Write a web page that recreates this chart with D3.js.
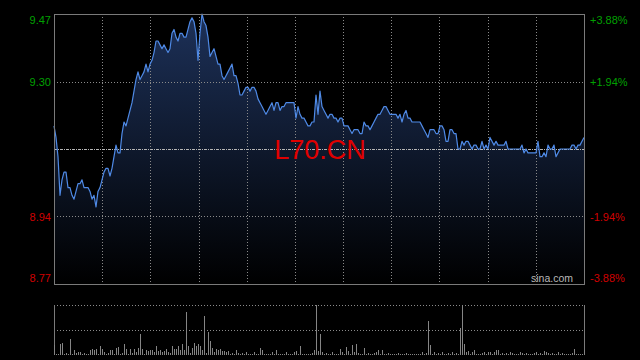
<!DOCTYPE html>
<html><head><meta charset="utf-8">
<script src="https://cdn.jsdelivr.net/npm/d3@7"></script>
<style>html,body{margin:0;padding:0;background:#000;}svg{display:block;}</style>
</head><body>
<svg id="c" width="640" height="360"></svg>
<script>
const title = "L70.CN";
const watermark = "sina.com";
const prevClose = 9.12;
const priceTicks = [9.47, 9.295, 9.12, 8.945, 8.77];
const priceLabels = ["9.47", "9.30", "", "8.94", "8.77"];
const pctLabels = ["+3.88%", "+1.94%", "", "-1.94%", "-3.88%"];
const prices = [
 9.18,9.15,9.10,9.00,9.04,9.06,9.06,9.02,9.02,9.00,
 8.99,9.01,9.03,9.03,9.04,9.02,9.02,9.02,9.01,8.99,
 9.00,8.97,9.01,9.02,9.04,9.06,9.07,9.07,9.05,9.07,
 9.10,9.13,9.11,9.11,9.16,9.19,9.18,9.20,9.22,9.24,
 9.27,9.30,9.32,9.30,9.31,9.32,9.34,9.32,9.34,9.35,
 9.37,9.40,9.40,9.39,9.38,9.39,9.38,9.37,9.38,9.42,
 9.43,9.41,9.40,9.42,9.42,9.41,9.41,9.43,9.45,9.46,
 9.45,9.42,9.35,9.42,9.47,9.45,9.44,9.41,9.36,9.37,
 9.38,9.36,9.34,9.34,9.31,9.30,9.31,9.32,9.33,9.34,
 9.31,9.31,9.29,9.26,9.26,9.27,9.28,9.28,9.27,9.28,
 9.28,9.27,9.25,9.24,9.23,9.22,9.21,9.22,9.23,9.24,
 9.22,9.24,9.24,9.22,9.23,9.23,9.24,9.24,9.24,9.24,
 9.24,9.20,9.23,9.21,9.20,9.20,9.19,9.18,9.18,9.19,
 9.19,9.26,9.21,9.27,9.23,9.22,9.21,9.20,9.21,9.21,
 9.20,9.20,9.19,9.20,9.20,9.18,9.18,9.18,9.17,9.16,
 9.17,9.17,9.17,9.16,9.16,9.19,9.18,9.18,9.17,9.18,
 9.19,9.20,9.21,9.21,9.22,9.23,9.23,9.22,9.21,9.21,
 9.21,9.21,9.20,9.21,9.19,9.21,9.22,9.20,9.20,9.19,
 9.19,9.19,9.19,9.19,9.18,9.17,9.16,9.15,9.17,9.17,
 9.17,9.16,9.16,9.18,9.18,9.17,9.14,9.14,9.17,9.17,
 9.16,9.16,9.12,9.12,9.14,9.13,9.14,9.14,9.13,9.12,
 9.13,9.13,9.12,9.12,9.14,9.12,9.13,9.12,9.15,9.14,
 9.13,9.14,9.13,9.13,9.13,9.13,9.14,9.12,9.12,9.12,
 9.12,9.12,9.12,9.12,9.13,9.11,9.12,9.11,9.11,9.11,
 9.11,9.11,9.14,9.10,9.10,9.11,9.10,9.13,9.12,9.12,
 9.13,9.10,9.11,9.12,9.12,9.12,9.12,9.12,9.12,9.13,
 9.13,9.12,9.13,9.13,9.14,9.15];
const volumes = [
 10,1,1,11,12,1,2,1,16,1,
 5,2,3,3,1,2,1,1,5,6,
 5,6,1,9,6,3,1,2,5,5,
 1,7,8,1,2,11,6,1,6,2,
 6,3,7,21,6,1,5,4,5,5,
 3,9,4,5,3,4,6,3,2,9,
 6,6,9,5,11,5,43,9,2,7,
 12,9,11,9,5,39,2,23,14,7,
 3,6,5,6,4,4,3,4,1,2,
 1,5,2,1,2,1,3,1,1,1,
 3,1,1,7,5,1,1,1,1,3,
 1,5,1,1,1,1,3,1,1,1,
 3,4,1,9,1,1,1,1,1,2,
 5,50,4,21,3,1,2,1,1,3,
 1,1,1,6,3,1,8,4,1,10,
 3,11,2,1,1,7,1,2,1,1,
 2,3,5,1,5,1,1,2,1,1,
 1,1,2,1,1,1,2,1,1,1,
 1,1,1,1,3,1,2,34,10,1,
 3,1,2,1,3,1,1,2,1,3,
 1,2,1,27,50,11,3,4,1,3,
 5,1,1,1,2,3,1,3,3,1,
 3,5,5,1,2,1,2,1,3,2,
 1,1,1,3,2,1,2,1,1,1,
 2,3,1,2,1,4,3,2,1,2,
 1,1,3,1,2,1,1,1,1,2,
 6,1,1,1,1,5];
const timeDivisions = 11;

const svg = d3.select("#c");
const L = 54, R = 584, T = 14, B = 284;
const VT = 305, VB = 355;
const N = prices.length;
const x = d3.scaleLinear().domain([0, N - 1]).range([L, R]);
const y = d3.scaleLinear().domain([8.77, 9.47]).range([B, T]);
const yv = d3.scaleLinear().domain([0, 50]).range([VB, VT]);
const font = "'Liberation Sans', Arial, Helvetica, sans-serif";

const defs = svg.append("defs");
const g = defs.append("linearGradient").attr("id", "ag")
  .attr("gradientUnits", "userSpaceOnUse").attr("x1", 0).attr("x2", 0).attr("y1", T).attr("y2", B);
g.append("stop").attr("offset", "0%").attr("stop-color", "#1d3159");
g.append("stop").attr("offset", "55%").attr("stop-color", "#0d1628");
g.append("stop").attr("offset", "100%").attr("stop-color", "#000000");

// area
svg.append("path").datum(prices)
  .attr("d", d3.area().x((d, i) => x(i)).y0(B).y1(d => y(d)))
  .attr("fill", "url(#ag)");

// vertical grid
const vgrid = d3.range(1, timeDivisions).map(k => k * (N - 1) / timeDivisions);
svg.append("g").selectAll("line").data(vgrid).join("line")
  .attr("x1", d => Math.round(x(d)) + 0.5).attr("x2", d => Math.round(x(d)) + 0.5)
  .attr("y1", T).attr("y2", B)
  .attr("stroke", "#8a8a8a").attr("stroke-width", 1).attr("stroke-dasharray", "1,2");

// horizontal grid
svg.append("g").selectAll("line").data(priceTicks.filter(v => v !== prevClose && v < 9.47 && v > 8.77)).join("line")
  .attr("x1", L).attr("x2", R)
  .attr("y1", d => Math.round(y(d)) + 0.5).attr("y2", d => Math.round(y(d)) + 0.5)
  .attr("stroke", "#8a8a8a").attr("stroke-width", 1).attr("stroke-dasharray", "1,2");

// previous close line
svg.append("line")
  .attr("x1", L).attr("x2", R)
  .attr("y1", Math.round(y(prevClose)) + 0.5).attr("y2", Math.round(y(prevClose)) + 0.5)
  .attr("stroke", "#b5b5b5").attr("stroke-width", 1).attr("stroke-dasharray", "3,1,1,1");

// price line
svg.append("path").datum(prices)
  .attr("d", d3.line().x((d, i) => x(i)).y(d => y(d)))
  .attr("fill", "none").attr("stroke", "#4f8ae6").attr("stroke-width", 1.2)
  .attr("stroke-linejoin", "round");

// border
svg.append("rect").attr("x", L + 0.5).attr("y", T + 0.5).attr("width", R - L).attr("height", B - T)
  .attr("fill", "none").attr("stroke", "#7a7a7a").attr("stroke-width", 1);

// title
svg.append("text").attr("x", 320).attr("y", 159).attr("text-anchor", "middle")
  .attr("font-family", font).attr("font-size", 27).attr("fill", "#e00000").text(title);
svg.append("text").attr("x", 573).attr("y", 282).attr("text-anchor", "end")
  .attr("font-family", font).attr("font-size", 10.5).attr("fill", "#b8b8b8").text(watermark);

// axis labels
const labelY = v => Math.min(Math.max(y(v) + 4, T + 10), B - 2);
priceTicks.forEach((v, k) => {
  const col = v > prevClose ? "#00a000" : "#d00000";
  if (priceLabels[k]) svg.append("text").attr("x", 51).attr("y", labelY(v)).attr("text-anchor", "end")
    .attr("font-family", font).attr("font-size", 11).attr("fill", col).text(priceLabels[k]);
  if (pctLabels[k]) svg.append("text").attr("x", 590).attr("y", labelY(v))
    .attr("font-family", font).attr("font-size", 11).attr("fill", col).text(pctLabels[k]);
});

// volume grid
[50, 25].forEach(v => {
  svg.append("line").attr("x1", L).attr("x2", R)
    .attr("y1", Math.round(yv(v)) + 0.5).attr("y2", Math.round(yv(v)) + 0.5)
    .attr("stroke", "#8a8a8a").attr("stroke-dasharray", "1,2");
});
svg.append("line").attr("x1", L + 0.5).attr("x2", L + 0.5).attr("y1", VT).attr("y2", VB).attr("stroke", "#7a7a7a");
svg.append("line").attr("x1", R + 0.5).attr("x2", R + 0.5).attr("y1", VT).attr("y2", VB).attr("stroke", "#7a7a7a");

// volume bars
svg.append("g").selectAll("rect").data(volumes).join("rect")
  .attr("x", (d, i) => Math.round(x(i)))
  .attr("width", 1)
  .attr("y", d => yv(d))
  .attr("height", d => VB - yv(d))
  .attr("fill", "#858585")
  .attr("shape-rendering", "crispEdges");
</script>
</body></html>
